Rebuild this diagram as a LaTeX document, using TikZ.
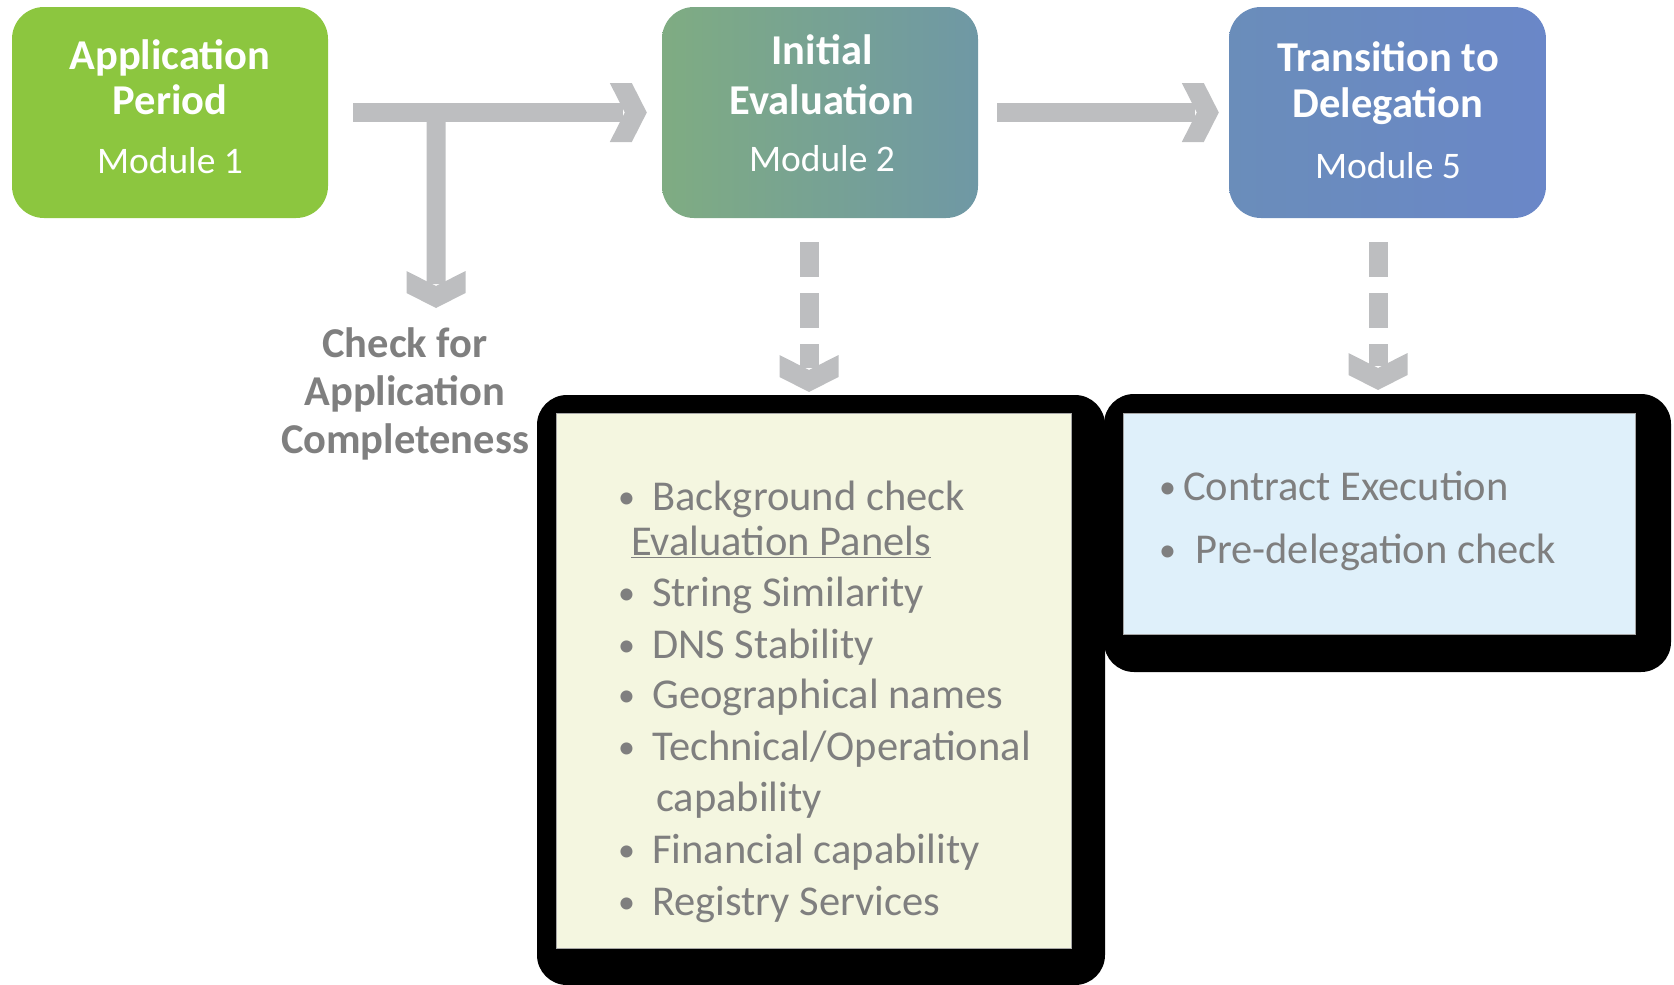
\documentclass[tikz,border=0pt]{standalone}
\usepackage{fontspec}
\setmainfont{Carlito}
\usetikzlibrary{calc}
\definecolor{boxgreen}{HTML}{8CC63F}
\definecolor{tealL}{HTML}{7FAC82}
\definecolor{tealR}{HTML}{6F98A5}
\definecolor{blueL}{HTML}{6A8DBA}
\definecolor{blueR}{HTML}{6A87C8}
\definecolor{arrowgray}{HTML}{BDBEC0}
\definecolor{textgray}{HTML}{7F7F7F}
\definecolor{paleyellow}{HTML}{F4F6E0}
\definecolor{paleblue}{HTML}{DFF0FA}
\newcommand\mybul[1]{\makebox[#1][l]{\fontsize{34}{40}\selectfont\raisebox{2pt}{•}}}
\tikzset{
  modbox/.style={rounded corners=32pt, inner sep=0pt, minimum height=211pt},
  titletxt/.style={anchor=base, text=white, font=\fontsize{42.5}{50}\selectfont\bfseries, inner sep=0pt},
  modtxt/.style={anchor=base, text=white, font=\fontsize{37.5}{44}\selectfont, inner sep=0pt},
  checktxt/.style={anchor=base, text=textgray, font=\fontsize{42.5}{50}\selectfont\bfseries, inner sep=0pt},
  itemtxt/.style={anchor=base west, text=textgray, font=\fontsize{42.5}{50}\selectfont, inner sep=0pt},
  blackframe/.style={fill=black, rounded corners=30pt, inner sep=0pt},
  panel/.style={draw=gray!70, line width=1pt, inner sep=0pt},
  shaft/.style={draw=arrowgray, line width=19pt},
  chev/.pic={\fill[arrowgray] (-37,-29.5) -- (-15,-29.5) -- (0,0) -- (-15,29.5) -- (-37,29.5) -- (-22,0) -- cycle;}
}
\begin{document}
\begin{tikzpicture}[x=1pt,y=-1pt]
\useasboundingbox (0,0) rectangle (1674,985);

% module boxes
\node[modbox, fill=boxgreen, minimum width=316pt] (g) at (170,112.5) {};
\node[modbox, left color=tealL, right color=tealR, minimum width=316pt] (t) at (820,112.5) {};
\node[modbox, left color=blueL, right color=blueR, minimum width=317pt] (b) at (1387.5,112.5) {};

\node[titletxt] (g1) at (170,69) {Application};
\node[titletxt] (g2) at (170,114) {Period};
\node[modtxt] (g3) at (170,173) {Module 1};
\node[titletxt] (t1) at (822,64) {Initial};
\node[titletxt] (t2) at (822,114) {Evaluation};
\node[modtxt] (t3) at (822,171) {Module 2};
\node[titletxt] (b1) at (1388,71) {Transition to};
\node[titletxt] (b2) at (1388,117) {Delegation};
\node[modtxt] (b3) at (1388,178) {Module 5};

% bottom panels
\node[blackframe, minimum width=568pt, minimum height=590pt] (yf) at (821,690) {};
\node[blackframe, minimum width=567pt, minimum height=278pt] (bf) at (1387.5,533) {};
\node[panel, fill=paleyellow, minimum width=515pt, minimum height=535pt] (yp) at (813.5,680.5) {};
\node[panel, fill=paleblue, minimum width=512pt, minimum height=221pt] (bp) at (1379,523.5) {};

% arrows
\coordinate (a1s) at ($(g.east)+(25,0)$);
\coordinate (a1e) at ($(t.west)+(-15,0)$);
\draw[shaft] (a1s) -- ($(a1e)+(-24,0)$);
\pic at (a1e) {chev};
\coordinate (br) at ($(g.east)+(108,0)$);
\coordinate (bre) at (436,308);
\draw[shaft] (br) -- ($(bre)+(0,-24)$);
\pic[rotate=-90] at (bre) {chev};
\coordinate (a2s) at ($(t.east)+(19,0)$);
\coordinate (a2e) at ($(b.west)+(-10,0)$);
\draw[shaft] (a2s) -- ($(a2e)+(-24,0)$);
\pic at (a2e) {chev};
% dashed arrows
\coordinate (d1s) at (809,242);
\coordinate (d1e) at (809,392);
\draw[shaft, dash pattern=on 35pt off 16pt] (d1s) -- ($(d1e)+(0,-24)$);
\pic[rotate=-90] at (d1e) {chev};
\coordinate (d2s) at (1378,242);
\coordinate (d2e) at (1378,390);
\draw[shaft, dash pattern=on 35pt off 16pt] (d2s) -- ($(d2e)+(0,-24)$);
\pic[rotate=-90] at (d2e) {chev};

% check text
\node[checktxt] (c1) at (405,357) {Check for};
\node[checktxt] (c2) at (405,405) {Application};
\node[checktxt] (c3) at (405,453) {Completeness};

% list in yellow panel
\node[itemtxt] (i1) at (618,510) {\mybul{34pt}Background check};
\node[itemtxt] (i2) at (631,555) {\underline{Evaluation Panels}};
\node[itemtxt] (i3) at (618,606) {\mybul{34pt}String Similarity};
\node[itemtxt] (i4) at (618,658) {\mybul{34pt}DNS Stability};
\node[itemtxt] (i5) at (618,708) {\mybul{34pt}Geographical names};
\node[itemtxt] (i6) at (618,760) {\mybul{34pt}Technical/Operational};
\node[itemtxt] (i7) at (656,811) {capability};
\node[itemtxt] (i8) at (618,863) {\mybul{34pt}Financial capability};
\node[itemtxt] (i9) at (618,915) {\mybul{34pt}Registry Services};

% list in blue panel
\node[itemtxt] (j1) at (1159,500) {\mybul{24pt}Contract Execution};
\node[itemtxt] (j2) at (1159,563) {\mybul{36pt}Pre-delegation check};
\end{tikzpicture}
\end{document}
